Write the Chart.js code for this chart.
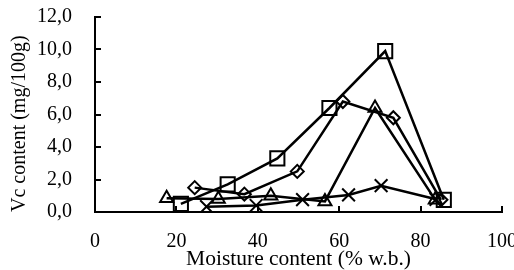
<!DOCTYPE html>
<html>
<head>
<meta charset="utf-8">
<script src="https://cdn.jsdelivr.net/npm/chart.js@4/dist/chart.umd.min.js"></script>
<style>
  html, body { margin: 0; padding: 0; background: #fff; }
  #wrap { width: 514px; height: 270px; position: relative; }
</style>
</head>
<body>
<div id="wrap"><canvas id="c" width="514" height="270"></canvas></div>
<script>
// ---- data ----
const squareX   = [21.1, 32.6, 44.8, 57.6, 71.3, 85.7];
const squareY   = [0.5, 1.7, 3.3, 6.4, 9.9, 0.75];
const diamondX  = [24.5, 36.7, 49.7, 60.9, 73.3, 85.0];
const diamondY  = [1.5, 1.1, 2.5, 6.8, 5.8, 0.75];
const triangleX = [17.6, 30.3, 43.2, 56.5, 68.8, 83.6];
const triangleY = [0.85, 0.8, 1.0, 0.65, 6.4, 0.75];
const crossX    = [27.4, 39.6, 51.0, 62.3, 70.3, 83.8];
const crossY    = [0.33, 0.4, 0.76, 1.05, 1.62, 0.78];

const xTickLabels = ['0', '20', '40', '60', '80', '100'];
const yTickLabels = ['0,0', '2,0', '4,0', '6,0', '8,0', '10,0', '12,0'];
const xTitle = 'Moisture content (% w.b.)';
const yTitle = 'Vc content (mg/100g)';

const pts = (xs, ys) => xs.map((x, i) => ({ x: x, y: ys[i] }));

const FONT = 'Liberation Serif';

function ds(label, xs, ys, style, radius) {
  return {
    label: label,
    data: pts(xs, ys),
    showLine: true,
    borderColor: '#000',
    borderWidth: 2.5,
    backgroundColor: 'rgba(0,0,0,0)',
    pointStyle: style,
    pointRadius: radius,
    pointBorderWidth: 2,
    pointBorderColor: '#000',
    pointBackgroundColor: 'rgba(0,0,0,0)',
    tension: 0
  };
}

const innerTicks = {
  id: 'innerTicks',
  afterDraw(chart) {
    const ctx = chart.ctx;
    const xs = chart.scales.x, ys = chart.scales.y;
    const a = chart.chartArea;
    ctx.save();
    ctx.strokeStyle = '#000';
    ctx.lineWidth = 2;
    ctx.beginPath();
    ys.ticks.forEach(t => {
      const py = Math.round(ys.getPixelForValue(t.value));
      ctx.moveTo(a.left, py);
      ctx.lineTo(a.left + 6, py);
    });
    xs.ticks.forEach(t => {
      const px = Math.round(xs.getPixelForValue(t.value));
      ctx.moveTo(px, a.bottom);
      ctx.lineTo(px, a.bottom - 6);
    });
    ctx.stroke();
    ctx.restore();
  }
};

new Chart(document.getElementById('c'), {
  type: 'scatter',
  data: {
    datasets: [
      ds('square', squareX, squareY, 'rect', 10),
      ds('diamond', diamondX, diamondY, 'rectRot', 6.5),
      ds('triangle', triangleX, triangleY, 'triangle', 7.5),
      ds('cross', crossX, crossY, 'crossRot', 9)
    ]
  },
  options: {
    responsive: false,
    animation: false,
    devicePixelRatio: 1,
    layout: { padding: { left: 0, right: 11, top: 17, bottom: 0 } },
    plugins: { legend: { display: false }, tooltip: { enabled: false } },
    scales: {
      x: {
        type: 'linear',
        min: 0, max: 100,
        grid: { display: true, drawOnChartArea: false, drawTicks: false },
        border: { display: true, color: '#000', width: 2 },
        ticks: {
          stepSize: 20,
          padding: 18,
          color: '#000',
          font: { family: FONT, size: 20 },
          maxRotation: 0,
          callback: (v, i) => xTickLabels[i]
        },
        title: {
          display: true, text: xTitle, color: '#000',
          font: { family: FONT, size: 21.5 },
          padding: { top: 0, bottom: -2 }
        },
        afterFit: s => { s.height = 58; s.paddingRight = 0; s.paddingLeft = 0; }
      },
      y: {
        type: 'linear',
        min: 0, max: 12,
        grid: { display: true, drawOnChartArea: false, drawTicks: false },
        border: { display: true, color: '#000', width: 2 },
        ticks: {
          stepSize: 2,
          padding: 23,
          color: '#000',
          font: { family: FONT, size: 20 },
          callback: (v, i) => yTickLabels[i]
        },
        title: {
          display: true, text: yTitle, color: '#000', align: 'start',
          font: { family: FONT, size: 20 },
          padding: { top: 8, bottom: 0 }
        },
        afterFit: s => { s.width = 95; s.paddingTop = 0; s.paddingBottom = 0; }
      }
    }
  },
  plugins: [innerTicks]
});
</script>
</body>
</html>
